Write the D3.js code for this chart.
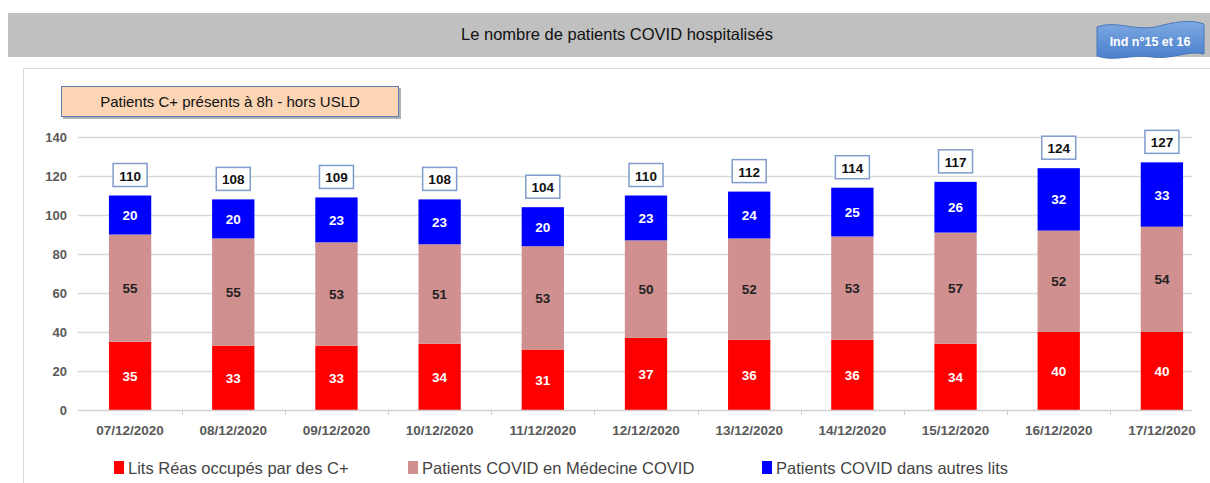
<!DOCTYPE html>
<html>
<head>
<meta charset="utf-8">
<title>Patients COVID hospitalisés</title>
<style>
  body { margin: 0; background: #fff; }
  svg { display: block; font-family: "Liberation Sans", Arial, sans-serif; }
  .grid line { stroke: #d9d9d9; stroke-width: 1.5px; }
  .xaxis path, .xaxis line { stroke: #d0d0d0; }
  .tick text { fill: #595959; }
</style>
<script src="https://d3js.org/d3.v7.min.js"></script>
</head>
<body>
<svg id="chart" width="1210" height="483"></svg>
<script>
var dates = ["07/12/2020", "08/12/2020", "09/12/2020", "10/12/2020", "11/12/2020", "12/12/2020",
             "13/12/2020", "14/12/2020", "15/12/2020", "16/12/2020", "17/12/2020"];
var reas = [35, 33, 33, 34, 31, 37, 36, 36, 34, 40, 40];
var medecine = [55, 55, 53, 51, 53, 50, 52, 53, 57, 52, 54];
var autres = [20, 20, 23, 23, 20, 23, 24, 25, 26, 32, 33];
var seriesNames = ["Lits Réas occupés par des C+", "Patients COVID en Médecine COVID", "Patients COVID dans autres lits"];
var seriesColors = ["#ff0000", "#d09090", "#0000ff"];
var labelColors = ["#ffffff", "#222222", "#ffffff"];
var yTicks = [0, 20, 40, 60, 80, 100, 120, 140];

var svg = d3.select("#chart");

// header band
svg.append("rect").attr("x", 8).attr("y", 13).attr("width", 1202).attr("height", 44).attr("fill", "#c0c0c0");
svg.append("text").attr("x", 617).attr("y", 40).attr("text-anchor", "middle")
  .attr("font-size", 16.5).attr("fill", "#111").text("Le nombre de patients COVID hospitalisés");

// badge
var grad = svg.append("defs").append("linearGradient").attr("id", "badge").attr("x1", 0).attr("y1", 0).attr("x2", 0).attr("y2", 1);
grad.append("stop").attr("offset", "0%").attr("stop-color", "#7eaae3");
grad.append("stop").attr("offset", "100%").attr("stop-color", "#4a7fcc");
svg.append("path")
  .attr("d", "M1097,27 C1115,20 1135,31 1155,27 C1175,22 1190,19 1204,24 L1204,54 C1188,50 1172,60 1152,57 C1132,54 1114,62 1097,56 Z")
  .attr("fill", "url(#badge)").attr("stroke", "#4a78b8").attr("stroke-width", 1);
svg.append("text").attr("x", 1150).attr("y", 46).attr("text-anchor", "middle")
  .attr("font-size", 12.5).attr("font-weight", "bold").attr("fill", "#fff").text("Ind n°15 et 16");

// chart panel
svg.append("rect").attr("x", 23.5).attr("y", 68.5).attr("width", 1200).attr("height", 430)
  .attr("fill", "#fff").attr("stroke", "#d9d9d9");

// subtitle box
svg.append("rect").attr("x", 63).attr("y", 88).attr("width", 338).attr("height", 31).attr("fill", "#b0b0b0");
svg.append("rect").attr("x", 61.5).attr("y", 86.5).attr("width", 337).attr("height", 30)
  .attr("fill", "#fcd5b5").attr("stroke", "#5b7fb0");
svg.append("text").attr("x", 230).attr("y", 107).attr("text-anchor", "middle")
  .attr("font-size", 15).attr("fill", "#111").text("Patients C+ présents à 8h - hors USLD");

var x = d3.scaleBand().domain(dates).range([78.5, 1213.5]).paddingInner(0.59).paddingOuter(0.295);
var y = d3.scaleLinear().domain([0, 140]).range([410, 137]);

// gridlines
svg.append("g").attr("class", "grid")
  .selectAll("line").data(yTicks.slice(1)).join("line")
  .attr("x1", 78).attr("x2", 1192)
  .attr("y1", function(d) { return Math.round(y(d)) + 0.5; })
  .attr("y2", function(d) { return Math.round(y(d)) + 0.5; });

// y axis labels
svg.append("g").selectAll("text").data(yTicks).join("text")
  .attr("x", 67).attr("y", function(d) { return y(d) + 4.5; })
  .attr("text-anchor", "end").attr("font-size", 13).attr("font-weight", "bold").attr("fill", "#595959")
  .text(function(d) { return d; });

// stacked data
var rows = dates.map(function(d, i) {
  return { date: d, reas: reas[i], medecine: medecine[i], autres: autres[i] };
});
var keys = ["reas", "medecine", "autres"];
var stack = d3.stack().keys(keys)(rows);

var layers = svg.append("g").selectAll("g").data(stack).join("g")
  .attr("fill", function(d, i) { return seriesColors[i]; });

layers.selectAll("rect").data(function(d) { return d; }).join("rect")
  .attr("x", function(d) { return x(d.data.date); })
  .attr("width", x.bandwidth())
  .attr("y", function(d) { return y(d[1]); })
  .attr("height", function(d) { return y(d[0]) - y(d[1]); });

layers.each(function(layer, i) {
  d3.select(this).selectAll("text").data(layer).join("text")
    .attr("x", function(d) { return x(d.data.date) + x.bandwidth() / 2; })
    .attr("y", function(d) { return (y(d[0]) + y(d[1])) / 2 + 5; })
    .attr("text-anchor", "middle").attr("font-size", 13.5).attr("font-weight", "bold")
    .attr("fill", labelColors[i])
    .text(function(d) { return d[1] - d[0]; });
});

// totals
var totals = svg.append("g").selectAll("g").data(rows).join("g")
  .attr("transform", function(d) {
    var t = d.reas + d.medecine + d.autres;
    return "translate(" + (x(d.date) + x.bandwidth() / 2) + "," + (y(t) - 20) + ")";
  });
totals.append("rect").attr("x", -17).attr("y", -12).attr("width", 34).attr("height", 23)
  .attr("fill", "#fff").attr("stroke", "#7f9ccc").attr("stroke-width", 1.5);
totals.append("text").attr("y", 5).attr("text-anchor", "middle")
  .attr("font-size", 13.5).attr("font-weight", "bold").attr("fill", "#111")
  .text(function(d) { return d.reas + d.medecine + d.autres; });

// x axis
var xAxis = svg.append("g").attr("class", "xaxis").attr("transform", "translate(0,410.5)")
  .call(d3.axisBottom(x).tickSize(0).tickPadding(15));
xAxis.select(".domain").attr("d", "M78,0H1192").attr("stroke-width", 1.5);
xAxis.selectAll(".tick text").attr("font-size", 13.5).attr("font-weight", "bold").attr("fill", "#595959");
svg.append("g").selectAll("line").data(dates.slice(1)).join("line")
  .attr("x1", function(d) { return Math.round(x(d) - x.step() * x.paddingInner() / 2) + 0.5; })
  .attr("x2", function(d) { return Math.round(x(d) - x.step() * x.paddingInner() / 2) + 0.5; })
  .attr("y1", 410).attr("y2", 415).attr("stroke", "#d0d0d0");

// legend
var legendX = [114, 408, 762];
var legend = svg.append("g").selectAll("g").data(seriesNames).join("g")
  .attr("transform", function(d, i) { return "translate(" + legendX[i] + ",461)"; });
legend.append("rect").attr("width", 10).attr("height", 13)
  .attr("fill", function(d, i) { return seriesColors[i]; });
legend.append("text").attr("x", 14).attr("y", 12.5).attr("font-size", 16.5).attr("fill", "#444")
  .text(function(d) { return d; });
</script>
</body>
</html>
